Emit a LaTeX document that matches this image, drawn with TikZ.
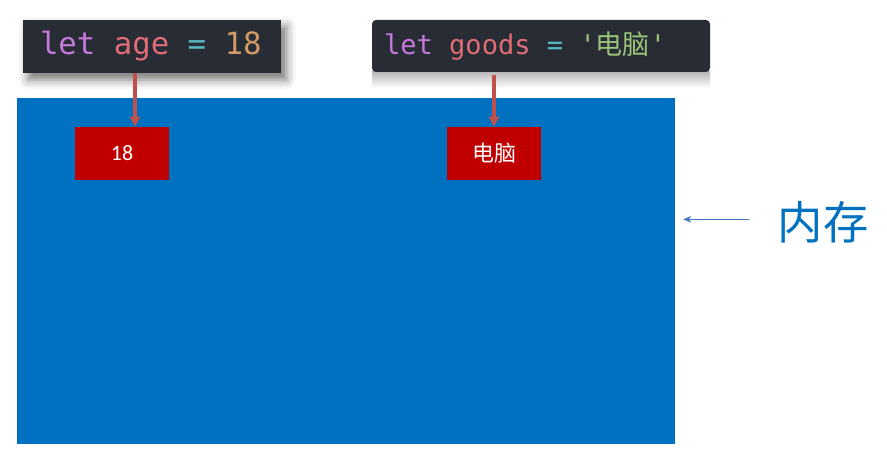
\documentclass[tikz,border=0pt]{standalone}
\usepackage{fontspec}
\setmainfont{Carlito}
\setmonofont{DejaVu Sans Mono}
\newfontfamily\cjk{Noto Sans CJK SC}
\usetikzlibrary{shadows.blur, arrows.meta}
\definecolor{memblue}{RGB}{0,112,192}
\definecolor{codebg}{RGB}{40,44,52}
\definecolor{kwpurple}{RGB}{198,120,221}
\definecolor{varred}{RGB}{224,108,117}
\definecolor{opcyan}{RGB}{86,182,194}
\definecolor{numorange}{RGB}{209,154,102}
\definecolor{strgreen}{RGB}{152,195,121}
\definecolor{valred}{RGB}{192,0,0}
\definecolor{arrowred}{RGB}{192,80,77}
\definecolor{hintblue}{RGB}{68,114,196}
\tikzset{
	code/.style={
		fill=codebg,
		inner ysep=0pt,
		font=\ttfamily
	},
	value/.style={
		fill=valred,
		text=white,
		minimum width=70.5pt,
		minimum height=39.75pt,
		inner sep=0pt
	}
}

\begin{document}
\begin{tikzpicture}[x=0.75pt, y=-0.75pt]
	\tikzset{edge/.style={-{Triangle[length=7.5pt,width=7.5pt]}, line width=2.4pt, arrowred}}
	\useasboundingbox (0,0) rectangle (887,456);
	
	% memory area
	\node(mem) at (346,271) [fill=memblue, minimum width=493.5pt, minimum height=259.5pt, inner sep=0pt] {};
	
	% code lines
	\node(code_age) at (152,46.5) [code, inner xsep=12.75pt, minimum height=39.75pt, font=\ttfamily\fontsize{23}{26}\selectfont,
		blur shadow={shadow xshift=4pt, shadow yshift=-5pt, shadow blur radius=7pt, shadow opacity=55}]
		{\makebox[168pt][l]{\textcolor{kwpurple}{let} \textcolor{varred}{age} \textcolor{opcyan}{=} \textcolor{numorange}{18}}};
	
	\shade[top color=gray!55, bottom color=white] (372,72) rectangle (710,88);
	\node(code_goods) at (541,46) [code, rounded corners=3pt, inner xsep=9pt, minimum height=39pt, font=\ttfamily\fontsize{20.3}{23}\selectfont]
		{\makebox[235.5pt][l]{\textcolor{kwpurple}{let} \textcolor{varred}{goods} \textcolor{opcyan}{=} \textcolor{strgreen}{'{\cjk 电脑}'}}};
	
	% values
	\node(val_age) at (122,153.5) [value, font=\fontsize{16.5}{19}\selectfont] {18};
	\node(val_goods) at (494,153.5) [value, font=\cjk\fontsize{16.5}{19}\selectfont] {电脑};
	
	\draw[edge] ([xshift=9.75pt]val_age.north |- code_age.south) -- ([xshift=9.75pt]val_age.north);
	\draw[edge] ([yshift=-2pt]val_goods.north |- code_goods.south) -- (val_goods.north);
	
	% label
	\node(mem_label) at (823,222) [inner sep=0pt, text=memblue, font=\cjk\fontsize{34}{40}\selectfont] {内存};
	\draw[-{Stealth[length=6pt,width=5pt]}, hintblue, line width=0.75pt, shorten <=21pt, shorten >=6pt] ([yshift=2pt]mem_label.west) -- ([yshift=2pt]mem.east |- mem_label.west);
	
\end{tikzpicture}
\end{document}
